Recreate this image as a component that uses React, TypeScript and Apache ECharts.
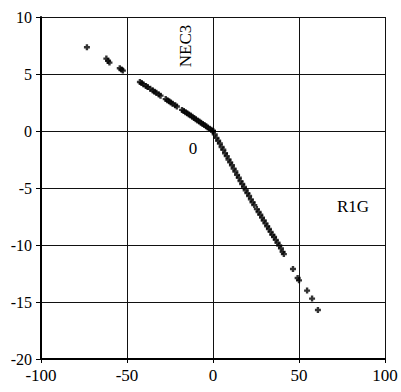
import React, { useEffect, useRef } from "react";
import * as echarts from "echarts";

const xTicks = [-100, -50, 0, 50, 100];
const yTicks = [-20, -15, -10, -5, 0, 5, 10];

const necPoints: [number, number][] = [
  [-73.3, 7.35], [-62, 6.35], [-61, 6.15], [-60.2, 6.0], [-54.2, 5.5], [-53.2, 5.4], [-52.4, 5.3],
  [-42.5, 4.3], [-41.5, 4.2], [-40.5, 4.1], [-39, 3.95], [-38, 3.85], [-36.5, 3.7], [-35, 3.55],
  [-34, 3.45], [-33, 3.35], [-31.5, 3.2], [-30.5, 3.1], [-27.5, 2.8], [-26.5, 2.7], [-25.5, 2.6],
  [-24.5, 2.5], [-23.5, 2.4], [-22, 2.25], [-21, 2.15], [-18, 1.85], [-17, 1.75], [-16, 1.65],
  [-15, 1.55], [-14, 1.45], [-13, 1.35], [-12, 1.24], [-11, 1.14], [-10, 1.03], [-9, 0.93],
  [-8, 0.83], [-7, 0.72], [-6, 0.62], [-5, 0.52], [-4, 0.41], [-3, 0.31], [-2, 0.2], [-1, 0.1], [0, 0],
];

const r1gPoints: [number, number][] = [
  [0, 0], [1, -0.3], [2, -0.6], [3, -0.85], [4, -1.1], [5, -1.4], [6, -1.65], [7, -1.95], [8, -2.2],
  [9, -2.5], [10, -2.75], [11, -3.0], [12, -3.3], [13, -3.55], [14, -3.85], [15, -4.1], [16, -4.4],
  [17, -4.65], [18, -4.9], [19, -5.2], [20, -5.45], [21, -5.7], [22, -6.0], [23, -6.25], [24, -6.5],
  [25.5, -6.85], [26.5, -7.1], [27.5, -7.35], [28.5, -7.6], [29.5, -7.85], [30.5, -8.1], [31.5, -8.35],
  [32.5, -8.6], [33.5, -8.85], [34.5, -9.1], [35.5, -9.3], [36.5, -9.55], [37.5, -9.8], [38.5, -10.05],
  [39.5, -10.3], [40.5, -10.6], [41.2, -10.8], [46.5, -12.1], [49.2, -12.9], [50, -13.1],
  [54.7, -14.0], [57.6, -14.7], [61, -15.7],
];

const plusSymbol = "path://M1.5,0H3.5V1.5H5V3.5H3.5V5H1.5V3.5H0V1.5H1.5Z";

export default function App() {
  const ref = useRef<HTMLDivElement>(null);
  useEffect(() => {
    if (!ref.current) return;
    const chart = echarts.init(ref.current, null, { renderer: "svg" });
    const font = "Liberation Serif";
    chart.setOption({
      animation: false,
      backgroundColor: "#fff",
      textStyle: { fontFamily: font },
      grid: { left: 41, right: 16, top: 17, bottom: 33, containLabel: false },
      xAxis: {
        type: "value",
        min: xTicks[0],
        max: xTicks[xTicks.length - 1],
        interval: 50,
        axisLine: { show: true, onZero: false, lineStyle: { color: "#000", width: 2 } },
        axisTick: { show: true, length: 4, lineStyle: { color: "#000" } },
        axisLabel: { color: "#000", fontSize: 17, fontFamily: font, margin: 8 },
        splitLine: { show: true, lineStyle: { color: "#111", width: 1 } },
      },
      yAxis: {
        type: "value",
        min: yTicks[0],
        max: yTicks[yTicks.length - 1],
        interval: 5,
        axisLine: { show: true, onZero: false, lineStyle: { color: "#000", width: 2 } },
        axisTick: { show: true, length: 5, lineStyle: { color: "#000" } },
        axisLabel: { color: "#000", fontSize: 16, fontFamily: font, margin: 9, padding: [0, 0, 6, 0] },
        splitLine: { show: true, lineStyle: { color: "#111", width: 1 } },
      },
      series: [
        {
          name: "NEC3",
          type: "scatter",
          data: necPoints,
          symbol: plusSymbol,
          symbolSize: 6,
          itemStyle: { color: "#000" },
        },
        {
          name: "R1G",
          type: "scatter",
          data: r1gPoints,
          symbol: plusSymbol,
          symbolSize: 6,
          itemStyle: { color: "#000" },
        },
      ],
      graphic: [
        {
          type: "text",
          x: 185,
          y: 46,
          rotation: Math.PI / 2,
          style: {
            text: "NEC3",
            fontFamily: font,
            fontSize: 17,
            fill: "#000",
            textAlign: "center",
            textVerticalAlign: "middle",
          },
        },
        {
          type: "text",
          x: 193,
          y: 148,
          style: {
            text: "0",
            fontFamily: font,
            fontSize: 17,
            fill: "#000",
            textAlign: "center",
            textVerticalAlign: "middle",
          },
        },
        {
          type: "text",
          x: 353,
          y: 206,
          style: {
            text: "R1G",
            fontFamily: font,
            fontSize: 17,
            fill: "#000",
            textAlign: "center",
            textVerticalAlign: "middle",
          },
        },
      ],
    });
    return () => chart.dispose();
  }, []);
  return <div ref={ref} style={{ width: 401, height: 392, position: "absolute", left: 0, top: 0 }} />;
}
